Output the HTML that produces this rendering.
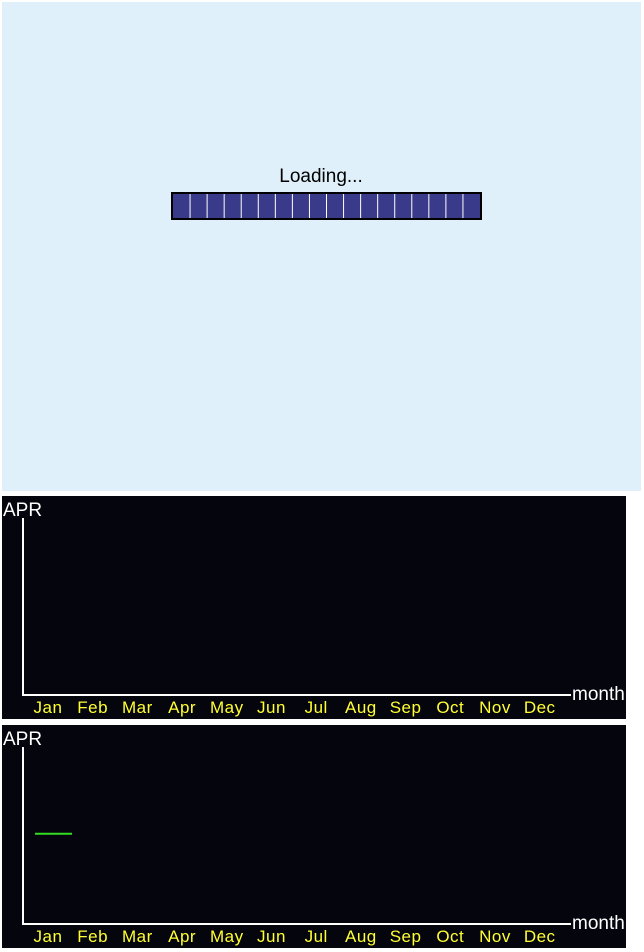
<!DOCTYPE html>
<html><head><meta charset="utf-8"><style>
html,body{margin:0;padding:0;background:#fff;width:644px;height:952px;overflow:hidden}
svg{display:block;font-family:"Liberation Sans",sans-serif}
</style></head><body>
<svg id="root" width="644" height="952">
  <rect x="2" y="2" width="639" height="489" fill="#e0f0fa"/>
  <text x="321" y="182" font-size="19" text-anchor="middle" fill="#000">Loading...</text>
  <rect x="172" y="193" width="309" height="26" fill="#3a3a8a" stroke="#000" stroke-width="2"/>
  <g id="cells"></g>
  <g id="chart1"></g>
  <g id="chart2"></g>
</svg>
<script>
const months = ["Jan","Feb","Mar","Apr","May","Jun","Jul","Aug","Sep","Oct","Nov","Dec"];
const chart1Values = [];
const chart2Values = [51];
const yMin = 0;
const yMax = 100;

const NS = "http://www.w3.org/2000/svg";
function mk(tag, attrs, parent){const e=document.createElementNS(NS,tag);for(const k in attrs)e.setAttribute(k,attrs[k]);parent.appendChild(e);return e;}

const cells=document.getElementById('cells');
for(let i=1;i<18;i++){
  const x=173+i*307/18;
  const l=mk('line',{x1:x,y1:194,x2:x,y2:218,stroke:'#ffffff','stroke-width':1},cells);
  
  
}

function drawChart(g, top, values, name){
  const bg=mk('rect',{x:2,y:top,width:624,height:223,fill:'#05050d'},g);
  
  
  const axTop=top+22, axBot=top+199;
  const xs=i=>48+i*44.7;
  const ys=v=>axBot-(v-yMin)/(yMax-yMin)*(axBot-axTop);
  const t=mk('text',{x:3,y:top+20,'font-size':19,fill:'#fff'},g);t.textContent='APR';
  
  
  const ya=mk('line',{x1:23,y1:axTop,x2:23,y2:axBot+1,stroke:'#fff','stroke-width':2},g);
  
  
  const xa=mk('line',{x1:22,y1:axBot,x2:571,y2:axBot,stroke:'#fff','stroke-width':2},g);
  
  
  const mt=mk('text',{x:572,y:axBot+5,'font-size':19,fill:'#fff'},g);mt.textContent='month';
  
  
  months.forEach((m,i)=>{
    const tx=mk('text',{x:xs(i),y:axBot+18,'font-size':17,fill:'#ffff33','text-anchor':'middle','letter-spacing':'0.5'},g);
    tx.textContent=m;
    
    
  });
  values.forEach((v,i)=>{
    const y=ys(v);
    const ln=mk('line',{x1:xs(i)-13,y1:y,x2:xs(i)+24,y2:y,stroke:'#33dd22','stroke-width':2},g);
    
    
  });
}
drawChart(document.getElementById('chart1'),496,chart1Values,'chart-1');
drawChart(document.getElementById('chart2'),725,chart2Values,'chart-2');
</script>
</body></html>
